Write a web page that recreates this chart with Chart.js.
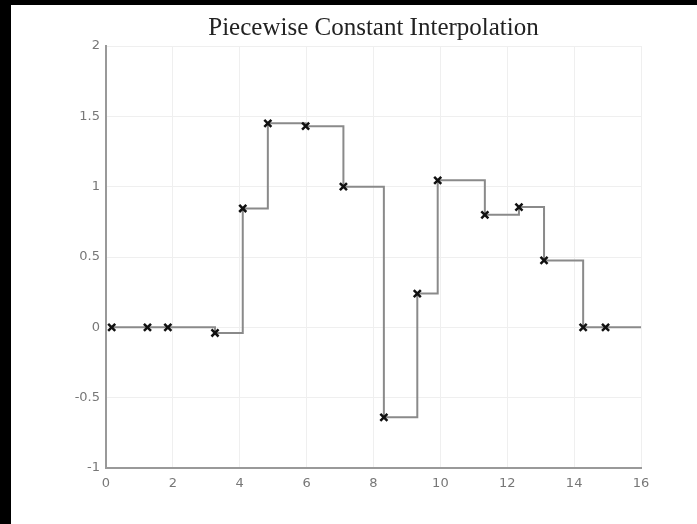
<!DOCTYPE html>
<html>
<head>
<meta charset="utf-8">
<script src="https://cdn.jsdelivr.net/npm/chart.js@4/dist/chart.umd.min.js"></script>
<style>
  html, body { margin: 0; padding: 0; background: #000; }
  #wrap { position: absolute; left: 11px; top: 5px; width: 686px; height: 519px; background: #fff; }
</style>
</head>
<body>
<div id="wrap"><canvas id="myChart" width="686" height="519"></canvas></div>
<script>
// sample points
const xs = [0.17, 1.24, 1.85, 3.26, 4.09, 4.84, 5.97, 7.1, 8.31, 9.31, 9.92, 11.33, 12.35, 13.1, 14.27, 14.94];
const ys = [0, 0, 0, -0.04, 0.845, 1.45, 1.43, 1.0, -0.64, 0.24, 1.045, 0.8, 0.855, 0.476, 0, 0];
// the held value runs on to the end of the axis
const xEnd = 16;
const yEnd = 0;

const xTicks = { min: 0, max: 16, step: 2 };
const yTicks = { min: -1, max: 2, step: 0.5 };

const points = xs.map((x, i) => ({ x: x, y: ys[i] }));
const stepLine = points.concat([{ x: xEnd, y: yEnd }]);

var ctx = document.getElementById('myChart').getContext('2d');
var myChart = new Chart(ctx, {
  type: 'scatter',
  data: {
    datasets: [{
      data: points,
      showLine: false,
      pointStyle: 'crossRot',
      pointRadius: 5,
      borderColor: '#111',
      backgroundColor: '#111',
      pointBorderWidth: 2.5,
      order: 0
    }, {
      data: stepLine,
      showLine: true,
      stepped: 'before',
      pointRadius: 0,
      borderColor: '#8a8a8a',
      borderWidth: 2,
      order: 1
    }]
  },
  options: {
    responsive: false,
    animation: false,
    layout: { padding: { left: 0, right: 56, top: 0, bottom: 0 } },
    plugins: {
      legend: { display: false },
      tooltip: { enabled: false },
      title: {
        display: true,
        fullSize: false,
        text: 'Piecewise Constant Interpolation',
        color: '#222',
        font: { family: 'Liberation Serif', size: 25, weight: 'normal', lineHeight: 1.2 },
        padding: { top: 8, bottom: 3 }
      }
    },
    scales: {
      x: {
        type: 'linear',
        min: xTicks.min,
        max: xTicks.max,
        ticks: { stepSize: xTicks.step, color: '#777', font: { family: 'DejaVu Sans', size: 13 }, padding: 8 },
        grid: { color: '#efefef', drawTicks: false },
        border: { color: '#999', width: 2 },
        afterFit: scale => { scale.height = 56; }
      },
      y: {
        type: 'linear',
        min: yTicks.min,
        max: yTicks.max,
        ticks: {
          stepSize: yTicks.step,
          color: '#777',
          font: { family: 'DejaVu Sans', size: 13 },
          padding: 6,
          callback: v => String(v)
        },
        grid: { color: '#efefef', drawTicks: false },
        border: { color: '#999', width: 2 },
        afterFit: scale => { scale.width = 95; }
      }
    }
  }
});
</script>
</body>
</html>
